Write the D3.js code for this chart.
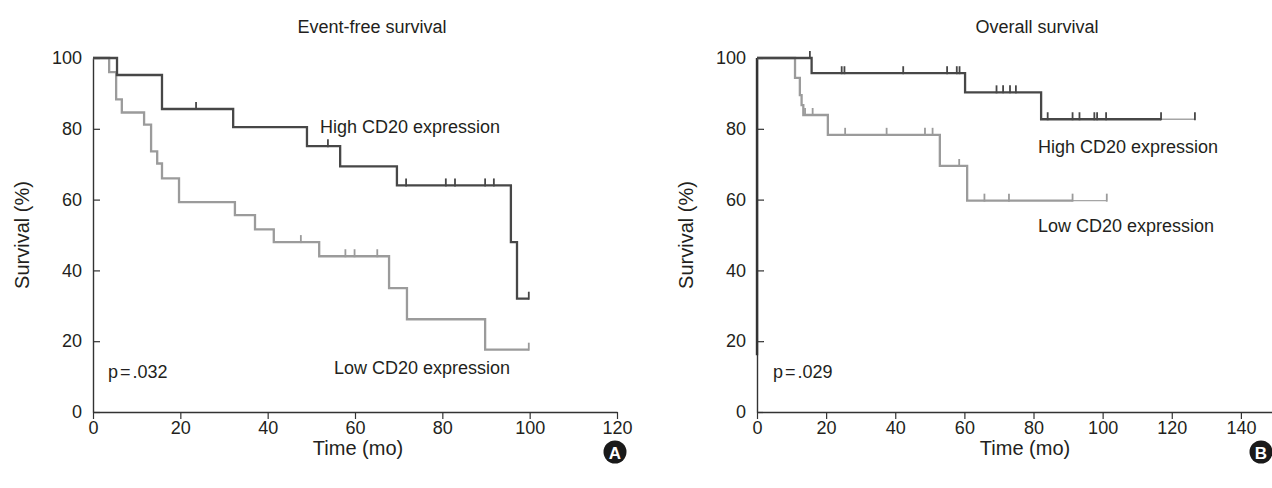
<!DOCTYPE html>
<html>
<head>
<meta charset="utf-8">
<script src="https://cdn.jsdelivr.net/npm/d3@7"></script>
<style>
  body { margin: 0; background: #fff; }
  svg { display: block; font-family: "Liberation Sans", Arial, sans-serif; }
</style>
</head>
<body>
<div id="chart"></div>
<script>
// Event-free survival (panel A): [month, survival %] at each drop
const efsHigh = [[0, 100], [5.5, 95.2], [15.8, 85.6], [32.1, 80.5], [49.0, 75.1], [56.6, 69.4], [69.6, 64.0], [95.7, 48.0], [97.1, 32.0]];
const efsHighCensor = [23.6, 53.8, 71.7, 80.8, 82.9, 89.8, 91.8, 99.8];
const efsLow = [[0, 100], [3.7, 96.0], [5.3, 88.3], [6.6, 84.6], [11.7, 81.2], [13.3, 73.6], [14.7, 70.2], [15.8, 66.0], [19.7, 59.3], [32.5, 55.6], [37.1, 51.6], [41.4, 48.0], [51.8, 44.0], [67.8, 35.0], [71.9, 26.2], [89.8, 17.6]];
const efsLowCensor = [47.6, 57.8, 59.9, 65.1, 99.8];

// Overall survival (panel B)
const osHigh = [[0, 100], [15.8, 95.7], [60.2, 90.3], [82.2, 82.7]];
const osHighCensor = [15.3, 24.5, 25.3, 42.3, 55.0, 57.8, 58.6, 69.3, 71.2, 73.2, 74.9, 84.1, 91.3, 93.3, 97.6, 98.4, 101.0, 116.9, 126.7];
const osLow = [[0, 100], [11.0, 94.4], [12.4, 89.5], [12.9, 86.7], [13.4, 83.9], [20.5, 78.3], [52.9, 69.5], [60.8, 59.7]];
const osLowCensor = [13.9, 16.1, 25.5, 37.5, 48.6, 50.8, 58.5, 65.8, 72.9, 91.3, 101.2];

const yTicks = [0, 20, 40, 60, 80, 100];
const xTicksA = [0, 20, 40, 60, 80, 100, 120];
const xTicksB = [0, 20, 40, 60, 80, 100, 120, 140];

const DARK = "#474747", LIGHT = "#9b9b9b", INK = "#231f20";

const svg = d3.select("#chart").append("svg")
    .attr("width", 1272)
    .attr("height", 488);

function survivalAt(steps, t) {
    let v = steps[0][1];
    steps.forEach(s => { if (s[0] <= t) v = s[1]; });
    return v;
}

function drawCurve(g, x, y, steps, censor, color, tailFrom) {
    const end = d3.max(censor);
    const stop = tailFrom != null ? tailFrom : end;
    const pts = steps.filter(s => s[0] <= stop).concat([[stop, survivalAt(steps, stop)]]);
    const line = d3.line().curve(d3.curveStepAfter).x(d => x(d[0])).y(d => y(d[1]));

    g.append("path")
        .attr("d", line(pts))
        .attr("fill", "none")
        .attr("stroke", color)
        .attr("stroke-width", 2.3);

    // thin lighter tail after the last heavy censor mark
    if (tailFrom != null) {
        const v = survivalAt(steps, end);
        g.append("line")
            .attr("x1", x(tailFrom)).attr("x2", x(end))
            .attr("y1", y(v)).attr("y2", y(v))
            .attr("stroke", "#a5a5a5")
            .attr("stroke-width", 1.3);
    }

    g.selectAll(null)
        .data(censor)
        .enter().append("line")
        .attr("x1", d => x(d)).attr("x2", d => x(d))
        .attr("y1", d => y(survivalAt(steps, d)) + 1)
        .attr("y2", d => y(survivalAt(steps, d)) - 7)
        .attr("stroke", color)
        .attr("stroke-width", 1.8);
}

function drawPanel(opt) {
    const g = svg.append("g");
    const x = d3.scaleLinear().domain(opt.xDomain).range(opt.xRange);
    const y = d3.scaleLinear().domain([0, 100]).range([412, 58]);

    const xa = g.append("g")
        .attr("transform", "translate(0,412)")
        .call(d3.axisBottom(x).tickValues(opt.xTicks).tickSize(7).tickSizeOuter(0).tickPadding(2));
    const ya = g.append("g")
        .attr("transform", `translate(${opt.xRange[0]},0)`)
        .call(d3.axisLeft(y).tickValues(yTicks).tickSize(-7).tickSizeOuter(0).tickPadding(11));

    [xa, ya].forEach(a => {
        a.select(".domain").attr("stroke", "#333").attr("stroke-width", 1.4);
        a.selectAll(".tick line").attr("stroke", "#333").attr("stroke-width", 1.2);
        a.selectAll(".tick text")
            .attr("font-size", 18)
            .attr("font-family", "Liberation Sans, Arial, sans-serif")
            .attr("fill", INK);
    });

    if (opt.thickAxisTo != null) {
        g.append("line")
            .attr("x1", x(0)).attr("x2", x(0))
            .attr("y1", y(100)).attr("y2", y(opt.thickAxisTo))
            .attr("stroke", "#333")
            .attr("stroke-width", 2.4);
    }

    drawCurve(g, x, y, opt.low, opt.lowCensor, LIGHT, opt.lowTail);
    drawCurve(g, x, y, opt.high, opt.highCensor, DARK, opt.highTail);

    const text = (tx, ty, str, size, anchor) => g.append("text")
        .attr("x", tx).attr("y", ty)
        .attr("font-size", size)
        .attr("text-anchor", anchor || "start")
        .attr("fill", INK)
        .text(str);

    text(opt.titleX, 33, opt.title, 18, "middle");
    text(opt.timeX, 455, "Time (mo)", 20, "middle");
    text(opt.highLabel[0], opt.highLabel[1], "High CD20 expression", 18);
    text(opt.lowLabel[0], opt.lowLabel[1], "Low CD20 expression", 18);

    // p value, with a little air around the "="
    const pt = g.append("text")
        .attr("x", opt.pX).attr("y", 378)
        .attr("font-size", 18)
        .attr("fill", INK);
    opt.p.forEach((s, i) => pt.append("tspan").attr("dx", i ? 2 : 0).text(s));

    g.append("text")
        .attr("transform", `translate(${opt.xRange[0] - 64},235) rotate(-90)`)
        .attr("text-anchor", "middle")
        .attr("font-size", 20)
        .attr("fill", INK)
        .text("Survival (%)");

    g.append("circle")
        .attr("cx", opt.badge[0]).attr("cy", 452)
        .attr("r", 11.5)
        .attr("fill", "#1a1a1a");
    g.append("text")
        .attr("x", opt.badge[0]).attr("y", 458.5)
        .attr("text-anchor", "middle")
        .attr("font-size", 17)
        .attr("font-weight", "bold")
        .attr("fill", "#fff")
        .text(opt.badgeText);
}

drawPanel({
    xDomain: [0, 120], xRange: [93, 617], xTicks: xTicksA,
    high: efsHigh, highCensor: efsHighCensor,
    low: efsLow, lowCensor: efsLowCensor,
    title: "Event-free survival", titleX: 372, timeX: 358,
    p: ["p", "=", ".032"], pX: 108,
    highLabel: [320, 133], lowLabel: [334, 374],
    badge: [615, 452], badgeText: "A"
});

drawPanel({
    xDomain: [0, 149], xRange: [757, 1272], xTicks: xTicksB,
    high: osHigh, highCensor: osHighCensor, highTail: 116.9,
    low: osLow, lowCensor: osLowCensor, lowTail: 91.3,
    title: "Overall survival", titleX: 1037, timeX: 1025,
    p: ["p", "=", ".029"], pX: 773,
    highLabel: [1038, 153], lowLabel: [1038, 232],
    badge: [1261, 452], badgeText: "B",
    thickAxisTo: 16
});
</script>
</body>
</html>
